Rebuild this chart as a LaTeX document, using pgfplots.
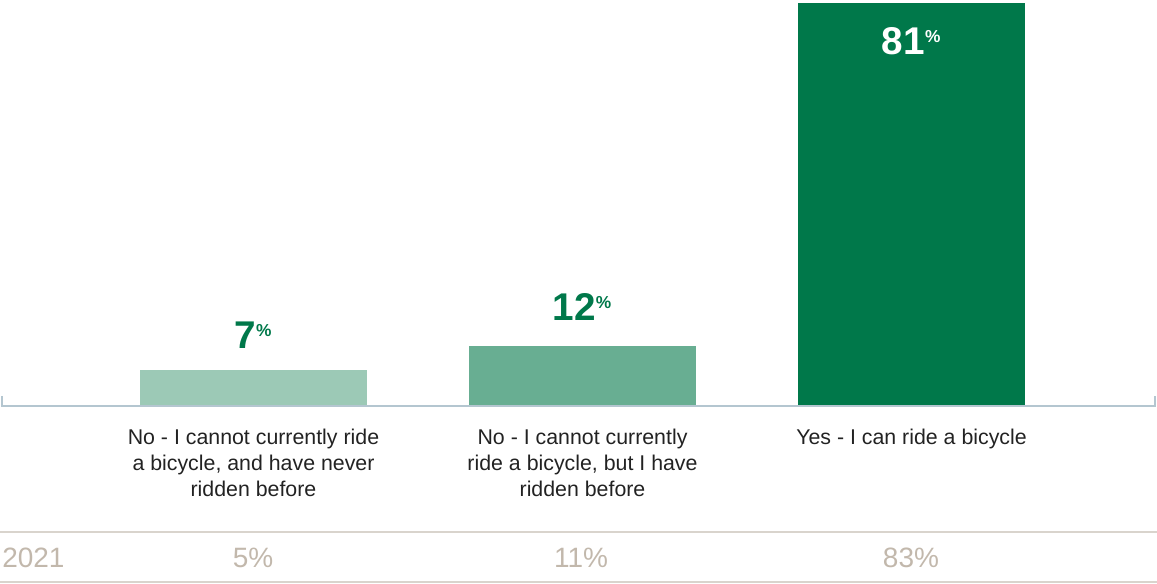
\documentclass[border=0pt]{standalone}
\usepackage{pgfplots}
\pgfplotsset{compat=1.18}
\usepackage{fontspec}
\setmainfont{Liberation Sans}
\definecolor{c1}{HTML}{9CC9B6}
\definecolor{c2}{HTML}{68AE92}
\definecolor{c3}{HTML}{00784A}
\definecolor{axc}{HTML}{B4C6D0}
\definecolor{tbl}{HTML}{C2B8AC}
\definecolor{tline}{HTML}{D9D4CD}
\definecolor{txt}{HTML}{222222}
\begin{document}
\begin{tikzpicture}[x=0.75pt,y=0.75pt]
\path[use as bounding box] (-2,-177) rectangle (1155,406);
\begin{axis}[
  at={(0,0)}, anchor=south west,
  scale only axis,
  width=864.75pt, height=304.5pt,
  xmin=-0.7644, xmax=2.7400,
  ymin=0, ymax=81.6,
  axis line style={draw=none},
  ytick=\empty,
  xtick={0,1,2},
  xticklabels={{No - I cannot currently ride\\a bicycle, and have never\\ridden before},
               {No - I cannot currently\\ride a bicycle, but I have\\ridden before},
               {Yes - I can ride a bicycle}},
  xticklabel style={align=center, font=\fontsize{16}{19.5}\selectfont, text=txt, anchor=north, yshift=-13.5pt},
  major tick length=0pt,
  ybar, bar width=170.25pt, bar shift=0pt,
  clip=false,
]
\addplot[fill=c1, draw=none] coordinates {(0,7.3)};
\addplot[fill=c2, draw=none] coordinates {(1,12)};
\addplot[fill=c3, draw=none] coordinates {(2,81)};
\draw[axc, line width=1.2pt] (rel axis cs:0,0.025) -- (rel axis cs:0,0) -- (rel axis cs:1,0) -- (rel axis cs:1,0.025);
\node[anchor=base, text=c3, font=\fontsize{29}{29}\selectfont\bfseries] at ([yshift=16pt]axis cs:0,7.3) {7\textsuperscript{\fontsize{13}{13}\selectfont\%}};
\node[anchor=base, text=c3, font=\fontsize{29}{29}\selectfont\bfseries] at ([yshift=19pt]axis cs:1,12) {12\textsuperscript{\fontsize{13}{13}\selectfont\%}};
\node[anchor=base, text=white, font=\fontsize{29}{29}\selectfont\bfseries] at ([yshift=-39pt]axis cs:2,81) {81\textsuperscript{\fontsize{13}{13}\selectfont\%}};
\end{axis}
\draw[tline, line width=1pt] (-2,-126) -- (1155,-126);
\draw[tline, line width=1pt] (-2,-176) -- (1155,-176);
\node[anchor=west, inner sep=0pt, text=tbl, font=\fontsize{21}{21}\selectfont] at (0,-152) {2021};
\node[inner sep=0pt, text=tbl, font=\fontsize{21}{21}\selectfont] at (251,-152) {5\%};
\node[inner sep=0pt, text=tbl, font=\fontsize{21}{21}\selectfont] at (579,-152) {11\%};
\node[inner sep=0pt, text=tbl, font=\fontsize{21}{21}\selectfont] at (909,-152) {83\%};
\end{tikzpicture}
\end{document}
